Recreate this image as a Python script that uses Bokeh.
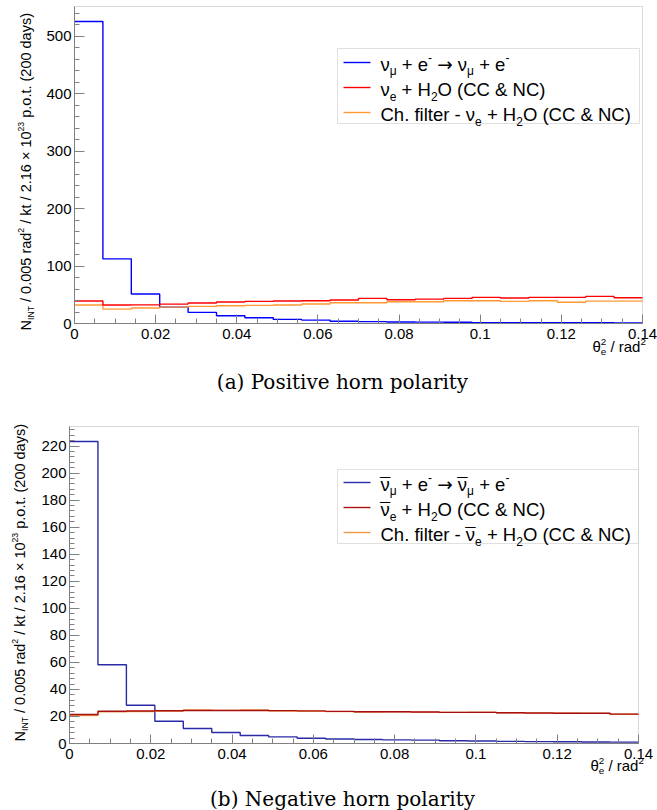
import math
from bokeh.plotting import figure
from bokeh.models import Range1d, FixedTicker, Label, BoxAnnotation, LinearAxis
from bokeh.layouts import column
from bokeh.embed import file_html
from bokeh.resources import INLINE

# ---------------- data ----------------
bin_edges = [0.0, 0.007, 0.014, 0.021, 0.028, 0.035, 0.042, 0.049, 0.056, 0.063, 0.07,
             0.077, 0.084, 0.091, 0.098, 0.105, 0.112, 0.119, 0.126, 0.133, 0.14]

# (a) positive horn polarity
pos_numu_e = [526, 112.6, 51.3, 28.6, 19.3, 13.5, 10.0, 7.1, 5.9, 3.8,
              3.3, 2.6, 2.4, 2.2, 1.6, 1.5, 1.4, 1.3, 1.2, 0.8]
pos_nue_h2o = [39.1, 32.1, 32.5, 33.8, 35.6, 37.4, 38.5, 39.1, 39.7, 40.9,
               43.7, 41.4, 42.5, 43.7, 45.5, 44.3, 45.5, 45.5, 47.2, 44.9]
pos_chfilter = [32.1, 25.1, 26.9, 28.6, 29.8, 30.8, 31.5, 32.1, 33.9, 36.2,
                36.2, 37.9, 37.9, 39.7, 39.7, 38.5, 39.7, 37.0, 39.0, 39.0]

# (b) negative horn polarity
neg_numubar_e = [223.4, 58.3, 28.3, 16.5, 11.1, 8.1, 5.9, 4.9, 3.9, 3.3,
                 3.0, 2.7, 2.5, 2.0, 1.8, 1.6, 1.4, 1.3, 1.1, 1.0]
neg_nuebar_h2o = [21.4, 23.9, 24.0, 24.2, 24.4, 24.4, 24.4, 24.3, 24.1, 23.8,
                  23.5, 23.5, 23.3, 23.0, 23.0, 22.8, 22.6, 22.4, 22.4, 21.7]
neg_chfilter = [20.7, 23.4, 23.7, 24.0, 24.8, 24.5, 24.8, 24.0, 23.8, 23.6,
                23.3, 23.4, 23.2, 23.0, 23.1, 22.7, 22.5, 22.5, 22.3, 21.6]

x_major_ticks = [0, 0.02, 0.04, 0.06, 0.08, 0.1, 0.12, 0.14]
x_tick_labels = ["0", "0.02", "0.04", "0.06", "0.08", "0.1", "0.12", "0.14"]
x_minor_ticks = [round(i * 0.005, 3) for i in range(29)]
pos_y_major = [0, 100, 200, 300, 400, 500]
pos_y_minor = [i * 20 for i in range(28)]
neg_y_major = [0, 20, 40, 60, 80, 100, 120, 140, 160, 180, 200, 220]
neg_y_minor = [i * 4 for i in range(59)]

pos_colors = ["#0000ff", "#ff0000", "#ff9933"]
neg_colors = ["#2a2aa8", "#a81010", "#ec9a4a"]

caption_a = "(a) Positive horn polarity"
caption_b = "(b) Negative horn polarity"

FONT = "Liberation Sans"
SERIF = "DejaVu Serif"
GREY = "#808080"

# Arial / Liberation Sans advance widths (per 1000 em)
W = {' ': 278, '(': 333, ')': 333, '+': 584, '-': 333, '.': 278, '/': 278, '&': 667,
     'C': 722, 'H': 722, 'N': 722, 'O': 778, 'I': 278, 'T': 611,
     'a': 556, 'd': 556, 'e': 556, 'f': 278, 'h': 556, 'i': 222, 'k': 500, 'l': 222,
     'o': 556, 'p': 556, 'r': 333, 's': 500, 't': 278, 'y': 500,
     'ν': 500, 'μ': 576, '×': 584, 'θ': 556, '²': 333, '³': 333}

BASE_FIX = 0.25   # empirical baseline correction (fraction of font size)


def tw(text, size):
    return sum(W.get(c, 556) for c in text) / 1000.0 * size


def panel(height, frame, ymax, y_major, y_minor, series, colors, legend, ytitle, xtitle,
          caption, caption_text, bar):
    L, R, T, B = frame
    fx = lambda px: (px - L) / (R - L) * 0.14
    fy = lambda py: (B - py) / (B - T) * ymax

    p = figure(width=657, height=height,
               x_range=Range1d(fx(0), fx(657)), y_range=Range1d(fy(height), fy(0)),
               x_axis_location=None, y_axis_location=None,
               output_backend="svg", toolbar_location=None,
               min_border=0, min_border_left=0, min_border_right=0,
               min_border_top=0, min_border_bottom=0)
    p.title.visible = False
    p.xgrid.visible = False
    p.ygrid.visible = False
    p.background_fill_color = "white"
    p.border_fill_color = "white"
    p.outline_line_color = None

    xa = LinearAxis(fixed_location=0, bounds=(0, 0.14),
                    ticker=FixedTicker(ticks=x_major_ticks, minor_ticks=x_minor_ticks))
    xa.major_label_overrides = dict(zip(x_major_ticks, x_tick_labels))
    ya = LinearAxis(fixed_location=0, bounds=(0, ymax),
                    ticker=FixedTicker(ticks=y_major, minor_ticks=y_minor))
    for ax in (xa, ya):
        ax.axis_line_color = GREY
        ax.major_tick_line_color = GREY
        ax.minor_tick_line_color = GREY
        ax.major_tick_out = 0
        ax.minor_tick_out = 0
        ax.major_label_text_font = FONT
        ax.major_label_text_font_size = "15px"
        ax.major_label_text_color = "black"
    xa.major_tick_in = 9
    xa.minor_tick_in = 5
    ya.major_tick_in = 10
    ya.minor_tick_in = 5
    xa.major_label_standoff = 5
    ya.major_label_standoff = 3
    p.add_layout(xa, "below")
    p.add_layout(ya, "left")

    # histograms (drawn blue, orange, red so that red stays on top)
    for k in [0, 2, 1]:
        vals = series[k]
        p.step(x=bin_edges, y=vals + [vals[-1]], mode="after",
               line_color=colors[k], line_width=1.4)

    # frame box (top and right edges)
    p.add_layout(BoxAnnotation(left=0, right=0.14, bottom=0, top=ymax,
                               fill_alpha=0, line_color=GREY, line_width=1))

    def lab(px, py, text, size, font=FONT, align="left", angle=0.0):
        lead = len(text) - len(text.lstrip(" "))
        if lead and align == "left":
            adv = lead * 0.278 * size
            if angle:
                py -= adv
            else:
                px += adv
            text = text.lstrip(" ")
        if not text:
            return
        if angle:
            px -= BASE_FIX * size
        else:
            py -= BASE_FIX * size
        p.add_layout(Label(x=fx(px), y=fy(py), text=text, text_font=font,
                           text_font_size=f"{size:.1f}px", text_align=align,
                           text_baseline="alphabetic", angle=angle, text_color="black"))

    def rich_h(x0, base, parts, size):
        x = x0
        for text, mode in parts:
            if mode == "n":
                lab(x, base, text, size)
                x += tw(text, size)
            elif mode == "sub":
                s = size * 0.65
                lab(x, base + 0.28 * size, text, s)
                x += tw(text, s)
            elif mode == "sup":
                s = size * 0.65
                lab(x, base - 0.45 * size, text, s)
                x += tw(text, s)
            elif mode == "arrow":
                lab(x, base, text, size, font="DejaVu Sans")
                x += 0.838 * size
            elif mode == "nu":
                lab(x, base, "ν", size)
                if bar:
                    lab(x + 0.25 * size, base - 0.02 * size, "¯", size, align="center")
                x += tw("ν", size)

    # legend
    (bx0, by0, bx1, by1), rows_y, lsize = legend
    p.add_layout(BoxAnnotation(left=fx(bx0), right=fx(bx1), top=fy(by0), bottom=fy(by1),
                               fill_color="white", fill_alpha=1.0,
                               line_color="#999999", line_width=1))
    row_parts = [
        [("", "nu"), ("μ", "sub"), (" + e", "n"), ("-", "sup"), (" ", "n"), ("→", "arrow"),
         (" ", "n"), ("", "nu"), ("μ", "sub"), (" + e", "n"), ("-", "sup")],
        [("", "nu"), ("e", "sub"), (" + H", "n"), ("2", "sub"), ("O (CC & NC)", "n")],
        [("Ch. filter - ", "n"), ("", "nu"), ("e", "sub"), (" + H", "n"), ("2", "sub"),
         ("O (CC & NC)", "n")],
    ]
    for i, ry in enumerate(rows_y):
        r = p.segment(x0=fx(bx0 + 6), y0=fy(ry), x1=fx(bx0 + 33), y1=fy(ry),
                      line_color=colors[i], line_width=1.4)
        r.level = "overlay"
        rich_h(bx0 + 43, ry + 0.36 * lsize, row_parts[i], lsize)

    # y title (rotated)
    yb, ystart, ys = ytitle
    pieces = [("N", "n"), ("INT", "sub"), (" / 0.005 rad", "n"), ("2", "sup"),
              (" / kt / 2.16 × 10", "n"), ("23", "sup"), (" p.o.t. (200 days)", "n")]
    yy = ystart
    for text, mode in pieces:
        if mode == "n":
            s, shift = ys, 0
        elif mode == "sub":
            s, shift = ys * 0.6, 0.25 * ys
        else:
            s, shift = ys * 0.6, -0.42 * ys
        lab(yb + shift, yy, text, s, angle=math.pi / 2)
        yy -= tw(text, s)

    # x title
    tx, tb, ts = xtitle
    lab(tx, tb, "θ", ts)
    lab(tx + tw("θ", ts), tb - 0.42 * ts, "2", ts * 0.65)
    lab(tx + tw("θ", ts), tb + 0.25 * ts, "e", ts * 0.65)
    x2 = tx + tw("θ", ts) + tw("2", ts * 0.65)
    lab(x2, tb, " / rad", ts)
    x3 = x2 + tw(" / rad", ts)
    lab(x3, tb - 0.42 * ts, "2", ts * 0.65)

    # caption
    cx, cb, cs = caption
    lab(cx, cb, caption_text, cs, font=SERIF, align="center")
    return p


p1 = panel(395, (74, 642, 6, 323), 552, pos_y_major, pos_y_minor,
           [pos_numu_e, pos_nue_h2o, pos_chfilter], pos_colors,
           ((337, 48, 639, 123), [62, 87, 112], 18.5),
           (29, 330, 14.5),
           (592, 350, 15),
           (342, 386, 20), caption_a, False)

p2 = panel(415, (69, 638, 31, 348), 234.5, neg_y_major, neg_y_minor,
           [neg_numubar_e, neg_nuebar_h2o, neg_chfilter], neg_colors,
           ((337, 74, 638, 148), [87, 112, 137], 18.5),
           (23, 346, 14.5),
           (590, 374, 15),
           (342, 408, 20), caption_b, True)

layout = column(p1, p2, spacing=0)
open("out.html", "w").write(file_html(layout, INLINE))
